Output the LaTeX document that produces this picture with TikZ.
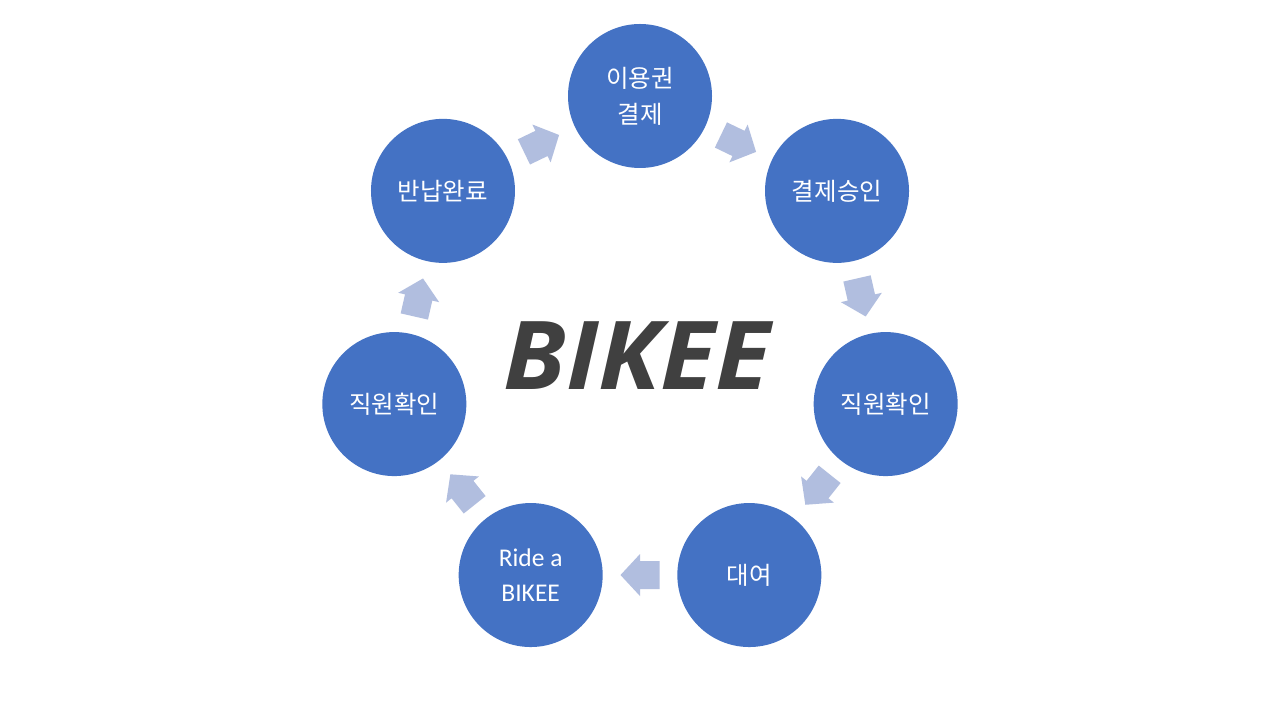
\documentclass[tikz,border=0pt]{standalone}
\usepackage{fontspec}
\setmainfont{Carlito}
\newfontfamily\krfont{Noto Sans CJK KR}
\newfontfamily\bikeefont{Open Sans}
\usetikzlibrary{calc}
\definecolor{circ}{HTML}{4472C4}
\definecolor{arrc}{HTML}{B1BEDF}
\definecolor{titlec}{HTML}{404040}
\tikzset{
  stage/.style={circle, fill=circ, minimum size=144pt, inner sep=0pt, text=white,
    align=center, font=\krfont\fontsize{24.5}{36}\selectfont},
  flowarrow/.style={fill=arrc},
}
\newcommand{\blockarrow}[2]{%
  \begin{scope}[shift={(#1)}, rotate=#2]
    \fill[flowarrow] (-19.5,-14) -- (0,-14) -- (0,-21) -- (19.5,0) -- (0,21) -- (0,14) -- (-19.5,14) -- cycle;
  \end{scope}}
\begin{document}
\begin{tikzpicture}[x=1pt,y=1pt]
\useasboundingbox (0,0) rectangle (1280,720);
\fill[white] (0,0) rectangle (1280,720);
\coordinate (c) at (640,372);
\node[stage] (n0) at ($(c)+(90:252)$) {이용권\\결제};
\node[stage] (n1) at ($(c)+(90-360/7:252)$) {결제승인};
\node[stage] (n2) at ($(c)+(90-720/7:252)$) {직원확인};
\node[stage] (n3) at ($(c)+(90-1080/7:252)$) {대여};
\node[stage, font=\fontsize{25.5}{35}\selectfont] (n4) at ($(c)+(90-1440/7:252)$) {Ride a\\BIKEE};
\node[stage] (n5) at ($(c)+(90-1800/7:252)$) {직원확인};
\node[stage] (n6) at ($(c)+(90-2160/7:252)$) {반납완료};
\coordinate (m0) at ($(n0)!0.5!(n1)$);
\coordinate (m1) at ($(n1)!0.5!(n2)$);
\coordinate (m2) at ($(n2)!0.5!(n3)$);
\coordinate (m3) at ($(n3)!0.5!(n4)$);
\coordinate (m4) at ($(n4)!0.5!(n5)$);
\coordinate (m5) at ($(n5)!0.5!(n6)$);
\coordinate (m6) at ($(n6)!0.5!(n0)$);
\blockarrow{m0}{-0.5*360/7}
\blockarrow{m1}{-1.5*360/7}
\blockarrow{m2}{-2.5*360/7}
\blockarrow{m3}{-3.5*360/7}
\blockarrow{m4}{-4.5*360/7}
\blockarrow{m5}{-5.5*360/7}
\blockarrow{m6}{-6.5*360/7}
\node[anchor=base, text=titlec, font=\bikeefont\bfseries\itshape\fontsize{95}{100}\selectfont, inner sep=0pt, xscale=1.065] (title) at (637,330) {BIKEE};
\end{tikzpicture}
\end{document}
